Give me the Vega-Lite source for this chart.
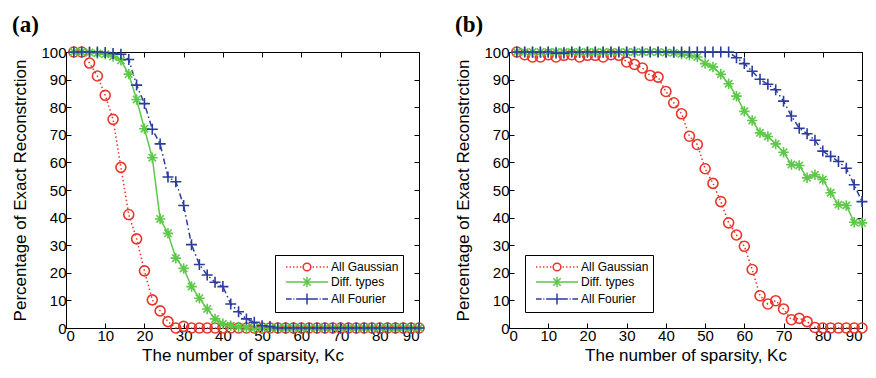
{
  "$schema": "https://vega.github.io/schema/vega-lite/v6.json",
  "padding": {"left": 11, "top": 13, "right": 5, "bottom": 0},
  "bounds": "flush",
  "spacing": 90,
  "config": {
    "view": {"stroke": "black", "strokeWidth": 1},
    "font": "Liberation Sans",
    "axis": {"grid": false, "domain": false, "labelFont": "Liberation Sans", "labelFontSize": 15, "labelColor": "black", "titleFont": "Liberation Sans", "titleFontSize": 17, "titleFontWeight": "normal", "titleColor": "black", "tickColor": "black", "tickSize": -5, "labelPadding": 5},
    "axisLeft": {"titlePadding": 11},
    "title": {"font": "Liberation Serif", "fontSize": 23, "fontWeight": "bold", "anchor": "start", "frame": "bounds", "color": "black", "offset": 6},
    "legend": {"padding": 4, "rowPadding": -1, "strokeColor": "black", "fillColor": "white", "cornerRadius": 0, "symbolSize": 196, "symbolOffset": 20, "labelOffset": 16, "labelFont": "Liberation Sans", "labelFontSize": 12, "labelColor": "black", "symbolStrokeWidth": 1.5, "symbolFillColor": "transparent", "symbolOpacity": 1}
  },
  "datasets": {
    "a": [
      {"s":"All Gaussian","k":2,"p":100},{"s":"All Gaussian","k":4,"p":100},{"s":"All Gaussian","k":6,"p":96},{"s":"All Gaussian","k":8,"p":91.3},{"s":"All Gaussian","k":10,"p":84.3},{"s":"All Gaussian","k":12,"p":75.6},{"s":"All Gaussian","k":14,"p":58.2},{"s":"All Gaussian","k":16,"p":41.1},{"s":"All Gaussian","k":18,"p":32.3},{"s":"All Gaussian","k":20,"p":20.7},{"s":"All Gaussian","k":22,"p":10.2},{"s":"All Gaussian","k":24,"p":6.2},{"s":"All Gaussian","k":26,"p":2.3},{"s":"All Gaussian","k":28,"p":0},{"s":"All Gaussian","k":30,"p":0.6},{"s":"All Gaussian","k":32,"p":0},{"s":"All Gaussian","k":34,"p":0},{"s":"All Gaussian","k":36,"p":0},{"s":"All Gaussian","k":38,"p":0},{"s":"All Gaussian","k":40,"p":0},{"s":"All Gaussian","k":42,"p":0},{"s":"All Gaussian","k":44,"p":0},{"s":"All Gaussian","k":46,"p":0},{"s":"All Gaussian","k":48,"p":0},{"s":"All Gaussian","k":50,"p":0},{"s":"All Gaussian","k":52,"p":0},{"s":"All Gaussian","k":54,"p":0},{"s":"All Gaussian","k":56,"p":0},{"s":"All Gaussian","k":58,"p":0},{"s":"All Gaussian","k":60,"p":0},{"s":"All Gaussian","k":62,"p":0},{"s":"All Gaussian","k":64,"p":0},{"s":"All Gaussian","k":66,"p":0},{"s":"All Gaussian","k":68,"p":0},{"s":"All Gaussian","k":70,"p":0},{"s":"All Gaussian","k":72,"p":0},{"s":"All Gaussian","k":74,"p":0},{"s":"All Gaussian","k":76,"p":0},{"s":"All Gaussian","k":78,"p":0},{"s":"All Gaussian","k":80,"p":0},{"s":"All Gaussian","k":82,"p":0},{"s":"All Gaussian","k":84,"p":0},{"s":"All Gaussian","k":86,"p":0},{"s":"All Gaussian","k":88,"p":0},{"s":"All Gaussian","k":90,"p":0},
      {"s":"Diff. types","k":2,"p":100},{"s":"Diff. types","k":4,"p":100},{"s":"Diff. types","k":6,"p":99.8},{"s":"Diff. types","k":8,"p":99.5},{"s":"Diff. types","k":10,"p":99.2},{"s":"Diff. types","k":12,"p":98.4},{"s":"Diff. types","k":14,"p":97},{"s":"Diff. types","k":16,"p":92},{"s":"Diff. types","k":18,"p":82.8},{"s":"Diff. types","k":20,"p":72.2},{"s":"Diff. types","k":22,"p":61.7},{"s":"Diff. types","k":24,"p":39.5},{"s":"Diff. types","k":26,"p":34.3},{"s":"Diff. types","k":28,"p":25.3},{"s":"Diff. types","k":30,"p":21.6},{"s":"Diff. types","k":32,"p":15},{"s":"Diff. types","k":34,"p":10.8},{"s":"Diff. types","k":36,"p":6.9},{"s":"Diff. types","k":38,"p":3.3},{"s":"Diff. types","k":40,"p":1.5},{"s":"Diff. types","k":42,"p":0.8},{"s":"Diff. types","k":44,"p":0.4},{"s":"Diff. types","k":46,"p":0.2},{"s":"Diff. types","k":48,"p":0},{"s":"Diff. types","k":50,"p":0},{"s":"Diff. types","k":52,"p":0},{"s":"Diff. types","k":54,"p":0},{"s":"Diff. types","k":56,"p":0},{"s":"Diff. types","k":58,"p":0},{"s":"Diff. types","k":60,"p":0},{"s":"Diff. types","k":62,"p":0},{"s":"Diff. types","k":64,"p":0},{"s":"Diff. types","k":66,"p":0},{"s":"Diff. types","k":68,"p":0},{"s":"Diff. types","k":70,"p":0},{"s":"Diff. types","k":72,"p":0},{"s":"Diff. types","k":74,"p":0},{"s":"Diff. types","k":76,"p":0},{"s":"Diff. types","k":78,"p":0},{"s":"Diff. types","k":80,"p":0},{"s":"Diff. types","k":82,"p":0},{"s":"Diff. types","k":84,"p":0},{"s":"Diff. types","k":86,"p":0},{"s":"Diff. types","k":88,"p":0},{"s":"Diff. types","k":90,"p":0},
      {"s":"All Fourier","k":2,"p":100},{"s":"All Fourier","k":4,"p":100},{"s":"All Fourier","k":6,"p":100},{"s":"All Fourier","k":8,"p":100},{"s":"All Fourier","k":10,"p":99.8},{"s":"All Fourier","k":12,"p":99.5},{"s":"All Fourier","k":14,"p":99.2},{"s":"All Fourier","k":16,"p":97.3},{"s":"All Fourier","k":18,"p":88},{"s":"All Fourier","k":20,"p":81.3},{"s":"All Fourier","k":22,"p":72},{"s":"All Fourier","k":24,"p":66.7},{"s":"All Fourier","k":26,"p":54.7},{"s":"All Fourier","k":28,"p":53},{"s":"All Fourier","k":30,"p":44.4},{"s":"All Fourier","k":32,"p":30.2},{"s":"All Fourier","k":34,"p":23},{"s":"All Fourier","k":36,"p":19.2},{"s":"All Fourier","k":38,"p":16.6},{"s":"All Fourier","k":40,"p":15},{"s":"All Fourier","k":42,"p":8.7},{"s":"All Fourier","k":44,"p":5.9},{"s":"All Fourier","k":46,"p":3.3},{"s":"All Fourier","k":48,"p":2.1},{"s":"All Fourier","k":50,"p":0.8},{"s":"All Fourier","k":52,"p":0.5},{"s":"All Fourier","k":54,"p":0},{"s":"All Fourier","k":56,"p":0},{"s":"All Fourier","k":58,"p":0},{"s":"All Fourier","k":60,"p":0},{"s":"All Fourier","k":62,"p":0},{"s":"All Fourier","k":64,"p":0},{"s":"All Fourier","k":66,"p":0},{"s":"All Fourier","k":68,"p":0},{"s":"All Fourier","k":70,"p":0},{"s":"All Fourier","k":72,"p":0},{"s":"All Fourier","k":74,"p":0},{"s":"All Fourier","k":76,"p":0},{"s":"All Fourier","k":78,"p":0},{"s":"All Fourier","k":80,"p":0},{"s":"All Fourier","k":82,"p":0},{"s":"All Fourier","k":84,"p":0},{"s":"All Fourier","k":86,"p":0},{"s":"All Fourier","k":88,"p":0},{"s":"All Fourier","k":90,"p":0}
    ],
    "b": [
      {"s":"All Gaussian","k":2,"p":100},{"s":"All Gaussian","k":4,"p":99},{"s":"All Gaussian","k":6,"p":98.2},{"s":"All Gaussian","k":8,"p":98.2},{"s":"All Gaussian","k":10,"p":99},{"s":"All Gaussian","k":12,"p":98.2},{"s":"All Gaussian","k":14,"p":98.8},{"s":"All Gaussian","k":16,"p":99},{"s":"All Gaussian","k":18,"p":98.2},{"s":"All Gaussian","k":20,"p":98.8},{"s":"All Gaussian","k":22,"p":98.8},{"s":"All Gaussian","k":24,"p":98.2},{"s":"All Gaussian","k":26,"p":99},{"s":"All Gaussian","k":28,"p":98.8},{"s":"All Gaussian","k":30,"p":96.4},{"s":"All Gaussian","k":32,"p":95.5},{"s":"All Gaussian","k":34,"p":94.2},{"s":"All Gaussian","k":36,"p":91.5},{"s":"All Gaussian","k":38,"p":90.9},{"s":"All Gaussian","k":40,"p":85.7},{"s":"All Gaussian","k":42,"p":81.6},{"s":"All Gaussian","k":44,"p":77.6},{"s":"All Gaussian","k":46,"p":69.5},{"s":"All Gaussian","k":48,"p":66.5},{"s":"All Gaussian","k":50,"p":57.7},{"s":"All Gaussian","k":52,"p":52.4},{"s":"All Gaussian","k":54,"p":45.8},{"s":"All Gaussian","k":56,"p":38.1},{"s":"All Gaussian","k":58,"p":33.7},{"s":"All Gaussian","k":60,"p":29.6},{"s":"All Gaussian","k":62,"p":21.2},{"s":"All Gaussian","k":64,"p":11.7},{"s":"All Gaussian","k":66,"p":8.7},{"s":"All Gaussian","k":68,"p":9.9},{"s":"All Gaussian","k":70,"p":6.9},{"s":"All Gaussian","k":72,"p":3},{"s":"All Gaussian","k":74,"p":3.5},{"s":"All Gaussian","k":76,"p":2.3},{"s":"All Gaussian","k":78,"p":0.2},{"s":"All Gaussian","k":80,"p":0},{"s":"All Gaussian","k":82,"p":0},{"s":"All Gaussian","k":84,"p":0},{"s":"All Gaussian","k":86,"p":0},{"s":"All Gaussian","k":88,"p":0},{"s":"All Gaussian","k":90,"p":0},
      {"s":"Diff. types","k":2,"p":100},{"s":"Diff. types","k":4,"p":100},{"s":"Diff. types","k":6,"p":100},{"s":"Diff. types","k":8,"p":100},{"s":"Diff. types","k":10,"p":100},{"s":"Diff. types","k":12,"p":100},{"s":"Diff. types","k":14,"p":100},{"s":"Diff. types","k":16,"p":100},{"s":"Diff. types","k":18,"p":100},{"s":"Diff. types","k":20,"p":100},{"s":"Diff. types","k":22,"p":100},{"s":"Diff. types","k":24,"p":100},{"s":"Diff. types","k":26,"p":100},{"s":"Diff. types","k":28,"p":100},{"s":"Diff. types","k":30,"p":100},{"s":"Diff. types","k":32,"p":100},{"s":"Diff. types","k":34,"p":100},{"s":"Diff. types","k":36,"p":100},{"s":"Diff. types","k":38,"p":100},{"s":"Diff. types","k":40,"p":99.8},{"s":"Diff. types","k":42,"p":99.7},{"s":"Diff. types","k":44,"p":99.3},{"s":"Diff. types","k":46,"p":98.8},{"s":"Diff. types","k":48,"p":98.2},{"s":"Diff. types","k":50,"p":95.8},{"s":"Diff. types","k":52,"p":94.6},{"s":"Diff. types","k":54,"p":91.9},{"s":"Diff. types","k":56,"p":88.5},{"s":"Diff. types","k":58,"p":84},{"s":"Diff. types","k":60,"p":78.5},{"s":"Diff. types","k":62,"p":75.2},{"s":"Diff. types","k":64,"p":70.7},{"s":"Diff. types","k":66,"p":69.4},{"s":"Diff. types","k":68,"p":66.7},{"s":"Diff. types","k":70,"p":63.7},{"s":"Diff. types","k":72,"p":59.2},{"s":"Diff. types","k":74,"p":58.9},{"s":"Diff. types","k":76,"p":54.4},{"s":"Diff. types","k":78,"p":55.5},{"s":"Diff. types","k":80,"p":53.8},{"s":"Diff. types","k":82,"p":49},{"s":"Diff. types","k":84,"p":44.7},{"s":"Diff. types","k":86,"p":44.4},{"s":"Diff. types","k":88,"p":38.3},{"s":"Diff. types","k":90,"p":38.1},
      {"s":"All Fourier","k":2,"p":100},{"s":"All Fourier","k":4,"p":100},{"s":"All Fourier","k":6,"p":100},{"s":"All Fourier","k":8,"p":100},{"s":"All Fourier","k":10,"p":100},{"s":"All Fourier","k":12,"p":99.6},{"s":"All Fourier","k":14,"p":99.6},{"s":"All Fourier","k":16,"p":100},{"s":"All Fourier","k":18,"p":100},{"s":"All Fourier","k":20,"p":100},{"s":"All Fourier","k":22,"p":100},{"s":"All Fourier","k":24,"p":100},{"s":"All Fourier","k":26,"p":100},{"s":"All Fourier","k":28,"p":100},{"s":"All Fourier","k":30,"p":100},{"s":"All Fourier","k":32,"p":100},{"s":"All Fourier","k":34,"p":100},{"s":"All Fourier","k":36,"p":100},{"s":"All Fourier","k":38,"p":100},{"s":"All Fourier","k":40,"p":100},{"s":"All Fourier","k":42,"p":100},{"s":"All Fourier","k":44,"p":100},{"s":"All Fourier","k":46,"p":100},{"s":"All Fourier","k":48,"p":100},{"s":"All Fourier","k":50,"p":100},{"s":"All Fourier","k":52,"p":100},{"s":"All Fourier","k":54,"p":100},{"s":"All Fourier","k":56,"p":100},{"s":"All Fourier","k":58,"p":97.9},{"s":"All Fourier","k":60,"p":95.8},{"s":"All Fourier","k":62,"p":93},{"s":"All Fourier","k":64,"p":90.1},{"s":"All Fourier","k":66,"p":88.3},{"s":"All Fourier","k":68,"p":86.3},{"s":"All Fourier","k":70,"p":82.2},{"s":"All Fourier","k":72,"p":76.8},{"s":"All Fourier","k":74,"p":72.4},{"s":"All Fourier","k":76,"p":70.4},{"s":"All Fourier","k":78,"p":68},{"s":"All Fourier","k":80,"p":64.1},{"s":"All Fourier","k":82,"p":62.2},{"s":"All Fourier","k":84,"p":60.3},{"s":"All Fourier","k":86,"p":57.9},{"s":"All Fourier","k":88,"p":51.9},{"s":"All Fourier","k":90,"p":45.8}
    ]
  },
  "resolve": {"scale": {"color": "independent", "shape": "independent", "size": "independent", "strokeDash": "independent", "stroke": "independent"}},
  "hconcat": [
    {
      "width": 353, "height": 276,
      "title": {"text": "(a)"},
      "data": {"name": "a"},
      "resolve": {"axis": {"x": "independent", "y": "independent"}, "scale": {"shape": "independent", "stroke": "independent"}},
      "layer": [
        {
          "mark": {"type": "line", "strokeWidth": 1.5},
          "encoding": {
            "x": {"field": "k", "type": "quantitative", "scale": {"domain": [0, 90], "nice": false}, "axis": {"orient": "bottom", "values": [0,10,20,30,40,50,60,70,80,90], "title": "The number of sparsity, Kc"}},
            "y": {"field": "p", "type": "quantitative", "scale": {"domain": [0, 100], "nice": false}, "axis": {"orient": "left", "values": [0,10,20,30,40,50,60,70,80,90,100], "title": "Percentage of Exact Reconstrction"}},
            "color": {"field": "s", "type": "nominal", "scale": {"domain": ["All Fourier", "Diff. types", "All Gaussian"], "range": ["#2a3c9c", "#5dc849", "#e8352b"]}, "legend": null},
            "strokeDash": {"field": "s", "type": "nominal", "scale": {"domain": ["All Fourier", "Diff. types", "All Gaussian"], "range": [[6, 3, 1.5, 3], [1, 0], [1.5, 2.5]]}, "legend": null}
          }
        },
        {
          "mark": {"type": "point", "filled": false, "opacity": 1, "strokeWidth": 1.6},
          "encoding": {
            "x": {"field": "k", "type": "quantitative", "scale": {"domain": [0, 90], "nice": false}, "axis": {"orient": "top", "labels": false, "title": null, "values": [0,10,20,30,40,50,60,70,80,90]}},
            "y": {"field": "p", "type": "quantitative", "scale": {"domain": [0, 100], "nice": false}, "axis": {"orient": "right", "labels": false, "title": null, "values": [0,10,20,30,40,50,60,70,80,90,100]}},
            "color": {"field": "s", "type": "nominal", "scale": {"domain": ["All Fourier", "Diff. types", "All Gaussian"], "range": ["#2a3c9c", "#5dc849", "#e8352b"]}, "legend": null},
            "size": {"field": "s", "type": "nominal", "scale": {"domain": ["All Fourier", "Diff. types", "All Gaussian"], "range": [121, 100, 50]}, "legend": null},
            "shape": {"field": "s", "type": "nominal", "scale": {"domain": ["All Fourier", "Diff. types", "All Gaussian"], "range": ["M-1,0L1,0M0,-1L0,1", "M-1,0L1,0M0,-1L0,1M-0.7,-0.7L0.7,0.7M-0.7,0.7L0.7,-0.7", "circle"]}, "legend": null}
          }
        },
        {
          "mark": {"type": "point", "filled": false, "opacity": 0, "strokeWidth": 1.5},
          "encoding": {
            "x": {"field": "k", "type": "quantitative", "axis": null},
            "y": {"field": "p", "type": "quantitative", "axis": null},
            "stroke": {"field": "s", "type": "nominal", "scale": {"domain": ["All Gaussian", "Diff. types", "All Fourier"], "range": ["#e8352b", "#5dc849", "#2a3c9c"]}, "legend": {"title": null, "orient": "bottom-right", "offset": 16}},
            "shape": {"field": "s", "type": "nominal", "scale": {"domain": ["All Gaussian", "Diff. types", "All Fourier"], "range": ["M-3,0L-2.8,0M-2.5,0L-2.3,0M-2,0L-1.8,0M-1.5,0L-1.3,0M-1,0L-0.8,0M0.8,0L1,0M1.3,0L1.5,0M1.8,0L2,0M2.3,0L2.5,0M2.8,0L3,0M0.55,0A0.55,0.55,0,1,1,-0.55,0A0.55,0.55,0,1,1,0.55,0", "M-3,0L3,0M-0.75,0L0.75,0M0,-0.75L0,0.75M-0.53,-0.53L0.53,0.53M-0.53,0.53L0.53,-0.53", "M-3,0L-2.2,0M-1.95,0L-1.8,0M-1.55,0L-0.75,0M-0.8,0L0.8,0M0,-0.8L0,0.8M0.75,0L1.55,0M1.8,0L1.95,0M2.2,0L3,0"]}, "legend": {"title": null, "orient": "bottom-right", "offset": 16, "labelFontSize": 12, "symbolOffset": 20, "labelOffset": 16, "rowPadding": -1}}
          }
        }
      ]
    },
    {
      "width": 353, "height": 276,
      "title": {"text": "(b)"},
      "data": {"name": "b"},
      "resolve": {"axis": {"x": "independent", "y": "independent"}, "scale": {"shape": "independent", "stroke": "independent"}},
      "layer": [
        {
          "mark": {"type": "line", "strokeWidth": 1.5},
          "encoding": {
            "x": {"field": "k", "type": "quantitative", "scale": {"domain": [0, 90], "nice": false}, "axis": {"orient": "bottom", "values": [0,10,20,30,40,50,60,70,80,90], "title": "The number of sparsity, Kc"}},
            "y": {"field": "p", "type": "quantitative", "scale": {"domain": [0, 100], "nice": false}, "axis": {"orient": "left", "values": [0,10,20,30,40,50,60,70,80,90,100], "title": "Percentage of Exact Reconstrction"}},
            "color": {"field": "s", "type": "nominal", "scale": {"domain": ["All Fourier", "Diff. types", "All Gaussian"], "range": ["#2a3c9c", "#5dc849", "#e8352b"]}, "legend": null},
            "strokeDash": {"field": "s", "type": "nominal", "scale": {"domain": ["All Fourier", "Diff. types", "All Gaussian"], "range": [[6, 3, 1.5, 3], [1, 0], [1.5, 2.5]]}, "legend": null}
          }
        },
        {
          "mark": {"type": "point", "filled": false, "opacity": 1, "strokeWidth": 1.6},
          "encoding": {
            "x": {"field": "k", "type": "quantitative", "scale": {"domain": [0, 90], "nice": false}, "axis": {"orient": "top", "labels": false, "title": null, "values": [0,10,20,30,40,50,60,70,80,90]}},
            "y": {"field": "p", "type": "quantitative", "scale": {"domain": [0, 100], "nice": false}, "axis": {"orient": "right", "labels": false, "title": null, "values": [0,10,20,30,40,50,60,70,80,90,100]}},
            "color": {"field": "s", "type": "nominal", "scale": {"domain": ["All Fourier", "Diff. types", "All Gaussian"], "range": ["#2a3c9c", "#5dc849", "#e8352b"]}, "legend": null},
            "size": {"field": "s", "type": "nominal", "scale": {"domain": ["All Fourier", "Diff. types", "All Gaussian"], "range": [121, 100, 50]}, "legend": null},
            "shape": {"field": "s", "type": "nominal", "scale": {"domain": ["All Fourier", "Diff. types", "All Gaussian"], "range": ["M-1,0L1,0M0,-1L0,1", "M-1,0L1,0M0,-1L0,1M-0.7,-0.7L0.7,0.7M-0.7,0.7L0.7,-0.7", "circle"]}, "legend": null}
          }
        },
        {
          "mark": {"type": "point", "filled": false, "opacity": 0, "strokeWidth": 1.5},
          "encoding": {
            "x": {"field": "k", "type": "quantitative", "axis": null},
            "y": {"field": "p", "type": "quantitative", "axis": null},
            "stroke": {"field": "s", "type": "nominal", "scale": {"domain": ["All Gaussian", "Diff. types", "All Fourier"], "range": ["#e8352b", "#5dc849", "#2a3c9c"]}, "legend": {"title": null, "orient": "bottom-left", "offset": 16}},
            "shape": {"field": "s", "type": "nominal", "scale": {"domain": ["All Gaussian", "Diff. types", "All Fourier"], "range": ["M-3,0L-2.8,0M-2.5,0L-2.3,0M-2,0L-1.8,0M-1.5,0L-1.3,0M-1,0L-0.8,0M0.8,0L1,0M1.3,0L1.5,0M1.8,0L2,0M2.3,0L2.5,0M2.8,0L3,0M0.55,0A0.55,0.55,0,1,1,-0.55,0A0.55,0.55,0,1,1,0.55,0", "M-3,0L3,0M-0.75,0L0.75,0M0,-0.75L0,0.75M-0.53,-0.53L0.53,0.53M-0.53,0.53L0.53,-0.53", "M-3,0L-2.2,0M-1.95,0L-1.8,0M-1.55,0L-0.75,0M-0.8,0L0.8,0M0,-0.8L0,0.8M0.75,0L1.55,0M1.8,0L1.95,0M2.2,0L3,0"]}, "legend": {"title": null, "orient": "bottom-left", "offset": 16, "labelFontSize": 12, "symbolOffset": 20, "labelOffset": 16, "rowPadding": -1}}
          }
        }
      ]
    }
  ]
}
